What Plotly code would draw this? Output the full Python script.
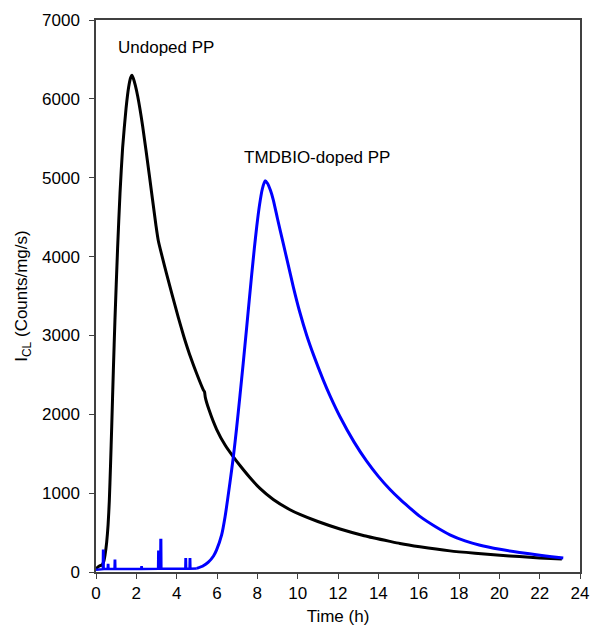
import plotly.graph_objects as go

# Undoped PP (black)
undoped_t = [0, 0.1, 0.2, 0.3, 0.38, 0.45, 0.53, 0.6, 0.66, 0.72, 0.78, 0.86, 0.94, 1.07,
             1.19, 1.32, 1.49, 1.62, 1.72, 1.78, 1.85, 1.95, 2.07, 2.31, 2.64, 2.97, 3.09,
             3.3, 3.5, 3.78, 4.08, 4.35, 4.6, 4.66, 5.0, 5.32, 5.38, 5.42, 5.6, 5.98, 6.4,
             6.81, 7.14, 7.64, 8.13, 8.79, 9.62, 10.11, 11.0, 12.1, 13.3, 14.58, 15.07,
             16.06, 17.55, 18.8, 20.03, 21.0, 22.0, 23.1]
undoped_v = [40, 65, 80, 90, 130, 220, 380, 600, 900, 1350, 1850, 2550, 3200, 4100,
             4800, 5380, 5880, 6150, 6270, 6300, 6260, 6170, 6030, 5660, 5040, 4400, 4200,
             3980, 3780, 3510, 3230, 2990, 2790, 2745, 2510, 2310, 2285, 2215, 2060, 1810, 1610,
             1460, 1350, 1195, 1060, 920, 790, 730, 640, 545, 460, 388, 362,
             320, 268, 238, 212, 195, 178, 165]

# TMDBIO-doped PP (blue): noisy baseline with spikes, then smooth peak
doped_base_t = [0, 0.2, 0.34, 0.35, 0.37, 0.38, 0.58, 0.59, 0.61, 0.62, 0.92, 0.93, 0.95,
                0.96, 2.24, 2.25, 2.27, 2.28, 3.08, 3.09, 3.11, 3.12, 3.19, 3.2, 3.23,
                3.24, 4.43, 4.44, 4.46, 4.47, 4.64, 4.65, 4.67, 4.68, 5.0]
doped_base_v = [30, 35, 36, 270, 270, 38, 38, 89, 89, 38, 38, 143, 143, 38, 38, 60, 60,
                38, 40, 258, 258, 40, 40, 406, 406, 40, 40, 161, 161, 42, 42, 161, 161,
                42, 45]
doped_t = [5.0, 5.32, 5.57, 5.82, 5.98, 6.23, 6.4, 6.64, 6.81, 6.97, 7.14, 7.3, 7.47, 7.6,
           7.72, 7.85, 7.97, 8.1, 8.25, 8.38, 8.5, 8.65, 8.79, 9.0, 9.29, 9.5, 9.78, 10.1,
           10.45, 10.8, 11.27, 11.6, 12.1, 12.8, 13.42, 14.0, 14.58, 15.07, 15.5,
           16.06, 16.8, 17.55, 18.3, 19.0, 20.03, 21.0, 22.01, 22.6, 23.17]
doped_v = [45, 80, 125, 200, 280, 470, 700, 1130, 1460, 1820, 2240, 2650, 3100, 3450,
           3770, 4100, 4380, 4640, 4860, 4960, 4930, 4840, 4720, 4480, 4160, 3930, 3620, 3300,
           3000, 2744, 2434, 2237, 1969, 1647, 1406, 1213, 1046, 923, 826,
           705, 580, 472, 395, 343, 288, 248, 213, 194, 177]

x_ticks = list(range(0, 25, 2))
y_ticks = list(range(0, 7001, 1000))

FONT = "Liberation Sans, Arial, sans-serif"
BLUE = "#0000FF"

fig = go.Figure()
fig.add_trace(go.Scatter(x=undoped_t, y=undoped_v, mode="lines",
                         line=dict(color="black", width=3, shape="spline", smoothing=0.6),
                         showlegend=False))
fig.add_trace(go.Scatter(x=doped_base_t, y=doped_base_v, mode="lines",
                         line=dict(color=BLUE, width=2.5), showlegend=False))
fig.add_trace(go.Scatter(x=doped_t, y=doped_v, mode="lines",
                         line=dict(color=BLUE, width=3, shape="spline", smoothing=0.6),
                         showlegend=False))

fig.add_annotation(x=1.0, y=6657, text="Undoped PP", showarrow=False,
                   xanchor="left", yanchor="middle", font=dict(size=17, color="black", family=FONT))
fig.add_annotation(x=7.25, y=5262, text="TMDBIO-doped PP", showarrow=False,
                   xanchor="left", yanchor="middle", font=dict(size=17, color="black", family=FONT))

fig.update_layout(
    width=592, height=641,
    margin=dict(l=96, r=12, t=20, b=69),
    paper_bgcolor="white", plot_bgcolor="white",
    font=dict(family=FONT, size=17, color="black"),
)
fig.update_xaxes(range=[0, 24], tickvals=x_ticks, ticks="outside", ticklen=5,
                 tickcolor="#404040", showline=True, linecolor="#404040", linewidth=1.5,
                 mirror=True, showgrid=False, zeroline=False, automargin=False,
                 title=dict(text="Time (h)", standoff=8, font=dict(size=17)))
fig.update_yaxes(range=[0, 7000], tickvals=y_ticks, ticks="outside", ticklen=5,
                 tickcolor="#404040", showline=True, linecolor="#404040", linewidth=1.5,
                 mirror=True, showgrid=False, zeroline=False, ticklabelstandoff=6,
                 automargin=False,
                 title=dict(text="I<sub>CL</sub> (Counts/mg/s)", standoff=10, font=dict(size=17)))

fig.write_html("out.html")
